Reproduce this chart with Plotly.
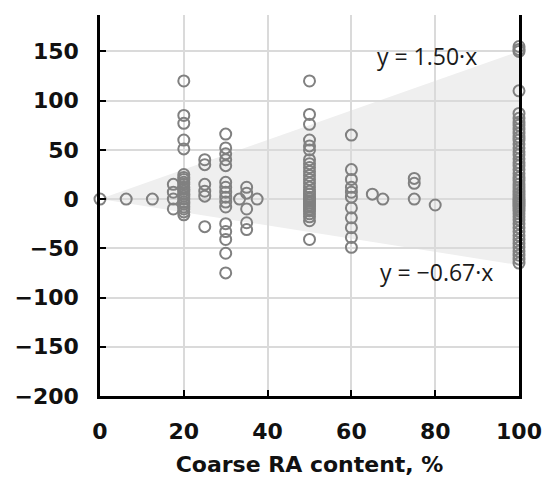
import plotly.graph_objects as go

# Coarse RA content (%) per measurement group, with the measured deviations
ra_content = [0, 6.25, 12.5, 17.5, 20, 25, 30, 33.3, 35, 37.5,
              50, 60, 65, 67.5, 75, 80, 100]
deviation = [
    [0],
    [0],
    [0],
    [15, 7, 0, -10],
    [120, 85, 77, 60, 51, 25, 22, 20, 17, 15, 12, 10, 8, 5, 3, 0,
     -3, -5, -8, -10, -13, -16],
    [40, 35, 15, 8, 3, -28],
    [66, 52, 46, 40, 34, 17, 12, 7, 2, -3, -8, -25, -33, -41, -55, -75],
    [0],
    [12, 6, -10, -24, -31],
    [0],
    [120, 86, 76, 60, 54, 50, 40, 36, 32, 28, 24, 20, 16, 12, 8, 5, 2, 0,
     -2, -4, -6, -8, -10, -12, -15, -18, -22, -41],
    [65, 30, 20, 12, 7, 2, -9, -19, -29, -39, -49],
    [5],
    [0],
    [21, 16, 0],
    [-6],
    [155, 152, 150, 110, 87, 82, 78, 75, 71, 67, 63, 60, 56, 52, 48, 45, 41,
     37, 34, 30, 26, 22, 19, 15, 12, 9, 6, 3, 0, -2, -4, -6, -8, -10, -12,
     -15, -18, -21, -25, -29, -33, -37, -41, -45, -49, -53, -57, -61, -65],
]

# Envelope bounding lines y = k·x
slope_upper = 1.50
slope_lower = -0.67
x_max = 100

y_ticks = [-200, -150, -100, -50, 0, 50, 100, 150]
y_tick_text = ["\u2212200", "\u2212150", "\u2212100", "\u221250", "0", "50", "100", "150"]
x_ticks = [0, 20, 40, 60, 80, 100]

xs, ys = [], []
for x, vals in zip(ra_content, deviation):
    for v in vals:
        xs.append(x)
        ys.append(v)

fig = go.Figure()
fig.add_trace(go.Scatter(
    x=xs, y=ys, mode="markers", cliponaxis=False,
    marker=dict(symbol="circle-open", size=11, color="#808080",
                line=dict(width=2, color="#808080")),
    showlegend=False, hoverinfo="skip",
))

# Shaded envelope between the two bounding lines, drawn beneath the grid
path = (f"M 0,0 L {x_max},{slope_upper * x_max} "
        f"L {x_max},{slope_lower * x_max} Z")
fig.add_shape(type="path", path=path, xref="x", yref="y",
              fillcolor="#efefef", line=dict(width=0), layer="below")

label_font = dict(family="Open Sans", size=23, color="#1a1a1a")
fig.add_annotation(x=78, y=145, text=f"y = {slope_upper:.2f}\u00b7x",
                   showarrow=False, font=label_font)
fig.add_annotation(x=80.3, y=-74.5,
                   text=f"y = \u2212{abs(slope_lower):.2f}\u00b7x",
                   showarrow=False, font=label_font)

tick_font = dict(family="DejaVu Sans", size=22, color="#111111", weight="bold")

fig.update_layout(
    width=546, height=480,
    margin=dict(l=100, r=27, t=15, b=84),
    paper_bgcolor="white", plot_bgcolor="white",
    xaxis=dict(
        range=[0, x_max], tickvals=x_ticks, automargin=False,
        showgrid=True, gridcolor="#dadada", gridwidth=2,
        zeroline=False,
        showline=True, linecolor="black", linewidth=2.5, mirror=False,
        ticks="inside", ticklen=6, tickwidth=2, tickcolor="black",
        tickfont=tick_font, ticklabelstandoff=14,
        title=dict(text="Coarse RA content, %", font=tick_font, standoff=14),
    ),
    yaxis=dict(
        range=[-200, 187], tickvals=y_ticks, ticktext=y_tick_text,
        automargin=False,
        showgrid=True, gridcolor="#dadada", gridwidth=2,
        zeroline=False,
        showline=True, linecolor="black", linewidth=2.5, mirror=True,
        ticks="inside", ticklen=6, tickwidth=2, tickcolor="black",
        tickfont=tick_font, ticklabelstandoff=14,
    ),
)

fig.write_html("out.html")
